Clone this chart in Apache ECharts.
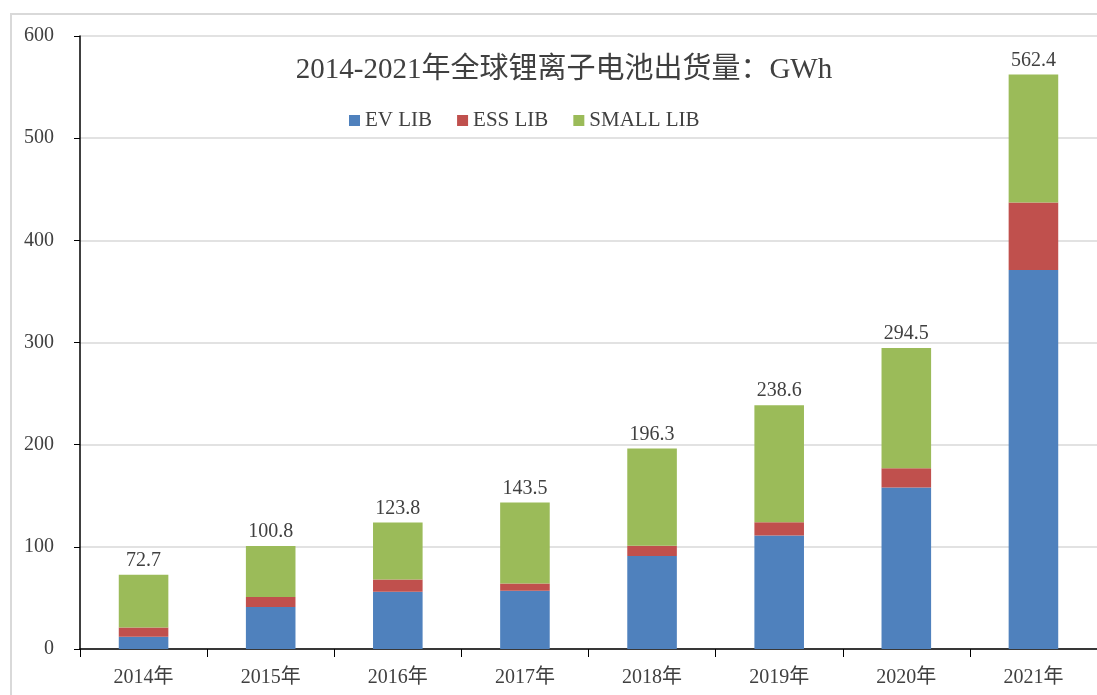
<!DOCTYPE html>
<html>
<head>
<meta charset="utf-8">
<script src="https://cdn.jsdelivr.net/npm/echarts@6/dist/echarts.min.js"></script>
<style>
  html, body { margin: 0; padding: 0; background: #fff; }
  #chart { width: 1097px; height: 695px; }
</style>
</head>
<body>
<div id="chart"></div>
<script>
"use strict";

// 2014-2021 全球锂离子电池出货量 (GWh)
const years = ["2014年", "2015年", "2016年", "2017年", "2018年", "2019年", "2020年", "2021年"];
const evLib = [12, 41, 56, 57, 91, 111, 158, 371];
const essLib = [9, 10, 12, 7, 10, 13, 19, 66];
const smallLib = [51.7, 49.8, 55.8, 79.5, 95.3, 114.6, 117.5, 125.4];
const totals = [72.7, 100.8, 123.8, 143.5, 196.3, 238.6, 294.5, 562.4];
const yTicks = [0, 100, 200, 300, 400, 500, 600];

const serif = "'Liberation Serif', 'Times New Roman', 'Noto Sans CJK SC', serif";
const txt = "#404040";

const chart = echarts.init(document.getElementById("chart"));

const bar = (name, data, color) => ({
  name, type: "bar", stack: "total", data, barWidth: "39%",
  itemStyle: { color },
});

const series = [
  bar("EV LIB", evLib, "#4F81BD"),
  bar("ESS LIB", essLib, "#C0504D"),
  bar("SMALL LIB", smallLib, "#9BBB59"),
];
series[2].label = {
  show: true, position: "top", distance: 4,
  fontFamily: serif, fontSize: 20, color: txt,
  formatter: (p) => totals[p.dataIndex].toFixed(1),
};

chart.setOption({
  animation: false,
  backgroundColor: "#fff",
  graphic: [{
    type: "rect", z: -10, silent: true,
    shape: { x: 11, y: 14, width: 1200, height: 800 },
    style: { fill: "none", stroke: "#d9d9d9", lineWidth: 2 },
  }],
  title: {
    text: "2014-2021年全球锂离子电池出货量：GWh",
    left: 559, top: 51, textAlign: "center",
    textStyle: { fontFamily: serif, fontSize: 29, fontWeight: "normal", color: txt },
  },
  legend: {
    left: 344, top: 105, itemWidth: 11, itemHeight: 11, itemGap: 25,
    icon: "rect",
    textStyle: { fontFamily: serif, fontSize: 21, color: txt },
    data: ["EV LIB", "ESS LIB", "SMALL LIB"],
  },
  grid: { left: 80, top: 36, width: 1021, height: 613, containLabel: false },
  xAxis: {
    type: "category", data: years,
    axisLine: { lineStyle: { color: "#000", width: 1.5 } },
    axisTick: { show: true, alignWithLabel: false, length: 8, lineStyle: { color: "#000" } },
    axisLabel: { fontFamily: serif, fontSize: 20, color: txt, margin: 19 },
  },
  yAxis: {
    type: "value", min: yTicks[0], max: yTicks[yTicks.length - 1], interval: 100,
    axisLine: { show: true, lineStyle: { color: "#000", width: 1.5 } },
    axisTick: { show: true, length: 6, lineStyle: { color: "#000" } },
    axisLabel: { fontFamily: serif, fontSize: 20, color: txt, margin: 26 },
    splitLine: { lineStyle: { color: "#d9d9d9", width: 1.5 } },
  },
  series,
});
</script>
</body>
</html>
